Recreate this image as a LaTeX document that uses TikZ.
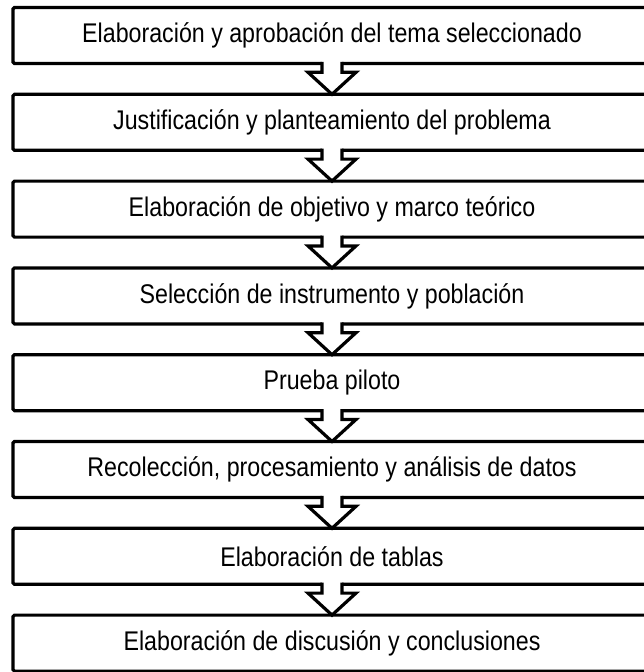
\documentclass[tikz,border=0pt]{standalone}
\usepackage{fontspec}
\setmainfont{Liberation Sans}[FakeStretch=0.86]
\usetikzlibrary{calc}
\begin{document}
\begin{tikzpicture}[x=1pt,y=-1pt,
  stepbox/.style={draw=black, line width=3.2pt, rounded corners=1.5pt, outer sep=0pt,
    minimum width=638pt, minimum height=56pt, inner sep=0pt,
    font=\fontsize{27}{30}\selectfont},
  arrowline/.style={draw=black, line width=3.2pt, line join=miter}]
\useasboundingbox (0,0) rectangle (644,672);
\clip (0,0) rectangle (644,672);
\node[stepbox] (b1) at (332,35.5) {Elaboración y aprobación del tema seleccionado};
\node[stepbox] (b2) at (332,122.3) {Justificación y planteamiento del problema};
\node[stepbox] (b3) at (332,209.1) {Elaboración de objetivo y marco teórico};
\node[stepbox] (b4) at (332,295.9) {Selección de instrumento y población};
\node[stepbox] (b5) at (332,382.7) {Prueba piloto};
\node[stepbox] (b6) at (332,469.5) {Recolección, procesamiento y análisis de datos};
\node[stepbox] (b7) at (332,556.3) {Elaboración de tablas};
\node[stepbox] (b8) at (332,643.1) {Elaboración de discusión y conclusiones};
\foreach \a/\b in {b1/b2,b2/b3,b3/b4,b4/b5,b5/b6,b6/b7,b7/b8} {
  \fill[white] let \p1=(\a.south) in (\x1-10pt,\y1+2.5pt) rectangle (\x1+10pt,\y1-2.5pt);
  \draw[arrowline] let \p1=(\a.south), \p2=(\b.north) in
    (\x1-10pt,\y1+1.6pt) -- (\x1-10pt,\y2+22pt) -- (\x1-24pt,\y2+22pt) -- (\x2,\y2)
    -- (\x1+24pt,\y2+22pt) -- (\x1+10pt,\y2+22pt) -- (\x1+10pt,\y1+1.6pt);
}
\end{tikzpicture}
\end{document}
